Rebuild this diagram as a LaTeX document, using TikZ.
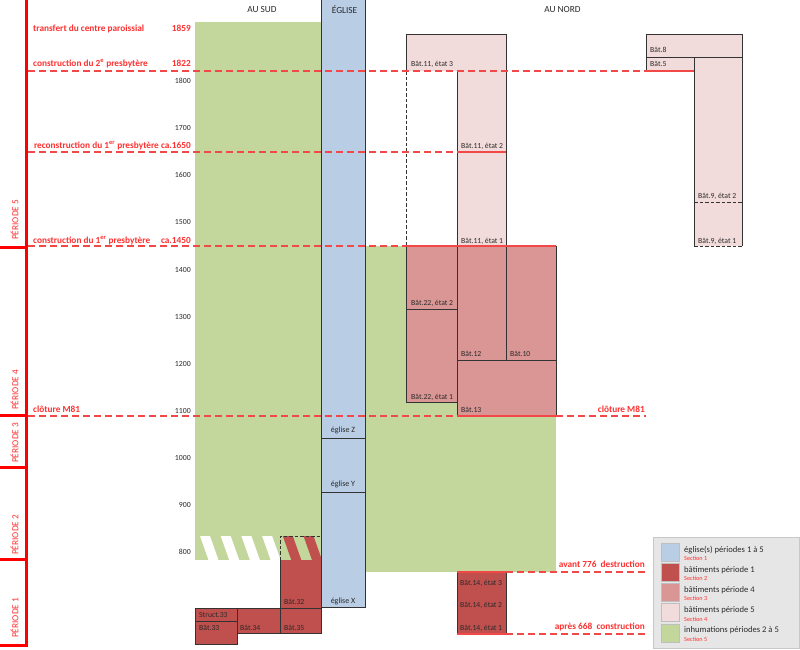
\documentclass[tikz,border=0pt]{standalone}
\usepackage{fontspec}
\setmainfont{Carlito}
\definecolor{eglise}{HTML}{B9CDE5}
\definecolor{inhum}{HTML}{C3D69B}
\definecolor{batA}{HTML}{C0504D}
\definecolor{batB}{HTML}{D99694}
\definecolor{batC}{HTML}{F2DCDB}
\definecolor{trait}{HTML}{333333}
\definecolor{txt}{HTML}{2A2A2A}
\definecolor{rouge}{HTML}{FF3030}
\definecolor{rougel}{HTML}{F24848}
\definecolor{barre}{HTML}{FF0000}
\definecolor{legfond}{HTML}{E6E6E6}
\definecolor{legbord}{HTML}{C8C8C8}
\begin{document}
\begin{tikzpicture}[x=1pt,y=-1pt,line join=miter]
\tikzset{
 bord/.style={draw=trait,line width=0.8pt},
 ptl/.style={font=\fontsize{7.7}{8}\selectfont,text=txt,inner sep=0pt,anchor=base west},
 ptc/.style={font=\fontsize{8}{8}\selectfont,text=txt,inner sep=0pt,anchor=base},
 evt/.style={font=\bfseries\fontsize{9.3}{10}\selectfont,text=rouge,inner sep=0pt,anchor=base west},
 evtr/.style={evt,anchor=base east},
 yr/.style={font=\fontsize{7.8}{8}\selectfont,text=txt,inner sep=0pt,anchor=east},
 hdr/.style={font=\fontsize{9.3}{10}\selectfont,text=txt,inner sep=0pt},
 per/.style={font=\fontsize{9.3}{10}\selectfont,text=rouge,inner sep=0pt,rotate=90,anchor=base west},
 datel/.style={draw=rougel,line width=1.1pt,dash pattern=on 7pt off 4pt},
 datef/.style={draw=rougel,line width=1.1pt},
 tickb/.style={draw=barre,line width=3pt},
 leg/.style={font=\fontsize{8.6}{9}\selectfont,text=txt,inner sep=0pt,anchor=base west},
 legs/.style={font=\fontsize{6.2}{7}\selectfont,text=rouge,inner sep=0pt,anchor=base west},
 sw/.style={draw=black!25,line width=0.6pt},
 dsh/.style={draw=trait,line width=0.8pt,dash pattern=on 3.5pt off 2pt},
}
\useasboundingbox (0,0) rectangle (800,649);
\fill[white] (0,0) rectangle (800,649);

% --- inhumations (green)
\fill[inhum] (195,22) rectangle (321,560);
\fill[inhum] (365,246) rectangle (556,572);
% hatched band
\begin{scope}
\clip (195,536) rectangle (280,560);
\foreach \k in {0,...,3}{
  \fill[white] ({200+20.7*\k},536) -- ({210+20.7*\k},536) -- ({218.5+20.7*\k},560) -- ({208.5+20.7*\k},560) -- cycle;}
\end{scope}
\begin{scope}
\clip (280,536) rectangle (321,560);
\foreach \k in {4,5}{
  \fill[batA] ({200+20.7*\k},536) -- ({210+20.7*\k},536) -- ({218.5+20.7*\k},560) -- ({208.5+20.7*\k},560) -- cycle;}
\end{scope}

% --- church
\fill[eglise] (321,0) rectangle (365,607);
\draw[bord] (321,0) -- (321,607) -- (365,607) -- (365,0);
\draw[bord] (321,438) -- (365,438);
\draw[bord] (321,492) -- (365,492);

% --- period 1 buildings (south)
\fill[batA] (280,560) rectangle (321,608);
\draw[bord] (280,560) -- (280,608);
\draw[dsh] (280,560) -- (280,536) -- (321,536);
\fill[batA] (195,608) rectangle (237,644);
\fill[batA] (237,608) rectangle (321,633);
\draw[bord] (195,608) rectangle (237,621);
\draw[bord] (195,621) rectangle (237,644);
\draw[bord] (237,608) rectangle (280,633);
\draw[bord] (280,608) rectangle (321,633);

% --- Bat.14 (north, period 1)
\fill[batA] (457,572) rectangle (506,634);
\draw[bord] (457,572) -- (457,634);
\draw[bord] (506,572) -- (506,634);
\draw[datef] (457,572) -- (506,572);
\draw[datef] (457,634) -- (506,634);

% --- period 4 buildings
\fill[batB] (406,246) rectangle (457,402);
\fill[batB] (457,246) rectangle (556,416);
\draw[bord] (406,246) rectangle (457,309);
\draw[bord] (406,309) rectangle (457,402);
\draw[bord] (457,246) rectangle (506,360);
\draw[bord] (506,246) rectangle (556,360);
\draw[bord] (457,360) rectangle (556,416);

% --- period 5 buildings
\fill[batC] (406,34) rectangle (506,71);
\fill[batC] (457,71) rectangle (506,246);
\draw[bord] (406,71) -- (406,34) -- (506,34) -- (506,246);
\draw[bord] (457,71) -- (457,246);
\draw[dsh] (406,71) -- (406,246);
\fill[batC] (646,34) rectangle (742,71);
\fill[batC] (694,71) rectangle (742,246);
\draw[bord] (646,34) rectangle (742,57);
\draw[bord] (646,57) -- (646,71);
\draw[bord] (694,57) -- (694,246);
\draw[bord] (742,57) -- (742,246);
\draw[dsh] (694,202) -- (742,202);
\draw[dsh] (694,246) -- (742,246);

% --- date lines
\draw[datel] (28,71) -- (646,71);
\draw[datef] (646,71) -- (694,71);
\draw[datel] (28,152) -- (457,152);
\draw[datef] (457,152) -- (506,152);
\draw[datel] (28,246) -- (406,246);
\draw[datef] (406,246) -- (556,246);
\draw[datel] (28,416) -- (457,416);
\draw[datef] (457,416) -- (556,416);
\draw[datel] (556,416) -- (646,416);
\draw[datel] (506,572) -- (646,572);
\draw[datel] (506,634) -- (646,634);

% --- period bar
\draw[tickb] (26.5,0) -- (26.5,647);
\foreach \yy in {247,415,467,559,645}{\draw[tickb] (0,\yy) -- (26.5,\yy);}
\node[per] (p5) at (18.3,240) {PÉRIODE 5};
\node[per] (p4) at (18.3,410) {PÉRIODE 4};
\node[per] (p3) at (18.3,463) {PÉRIODE 3};
\node[per] (p2) at (18.3,555) {PÉRIODE 2};
\node[per] (p1) at (18.3,638) {PÉRIODE 1};

% --- headers
\node[hdr] (hsud) at (262,10) {AU SUD};
\node[hdr] (hegl) at (344.5,10) {ÉGLISE};
\node[hdr] (hnord) at (562.5,10) {AU NORD};

% --- years
\foreach \yv/\yc in {1800/81,1700/128.1,1600/175.3,1500/222.4,1400/269.5,1300/316.7,1200/363.8,1100/410.9,1000/458,900/505.2,800/552.3}{
  \node[yr] (y\yv) at (191,\yc) {\yv};}

% --- events
\node[evt] (e1859) at (33,31) {transfert du centre paroissial};
\node[evtr] (e1859y) at (191,31) {1859};
\node[evt] (e1822) at (33,66) {construction du 2\textsuperscript{e} presbytère};
\node[evtr] (e1822y) at (191,66) {1822};
\node[evtr] (e1650) at (191,148) {reconstruction du 1\textsuperscript{er} presbytère ca.1650};
\node[evt] (e1450) at (33,243) {construction du 1\textsuperscript{er} presbytère};
\node[evtr] (e1450y) at (191,243) {ca.1450};
\node[evt] (m81a) at (33,412) {clôture M81};
\node[evtr] (m81b) at (645,412) {clôture M81};
\node[evtr] (e776) at (645,567.5) {avant 776\ \ destruction};
\node[evtr] (e668) at (645,629) {après 668\ \ construction};

% --- building labels
\node[ptl] (b11c) at (411,66.5) {Bât.11, état 3};
\node[ptl] (b11b) at (461,148) {Bât.11, état 2};
\node[ptl] (b11a) at (461,243) {Bât.11, état 1};
\node[ptl] (b8) at (650,52.5) {Bât.8};
\node[ptl] (b5) at (650,66.5) {Bât.5};
\node[ptl] (b9b) at (698,198.5) {Bât.9, état 2};
\node[ptl] (b9a) at (698,243) {Bât.9, état 1};
\node[ptl] (b22b) at (411,305) {Bât.22, état 2};
\node[ptl] (b22a) at (411,399) {Bât.22, état 1};
\node[ptl] (b12) at (461,356) {Bât.12};
\node[ptl] (b10) at (510,356) {Bât.10};
\node[ptl] (b13) at (461,412.3) {Bât.13};
\node[ptl] (b14c) at (460,585) {Bât.14, état 3};
\node[ptl] (b14b) at (460,607.3) {Bât.14, état 2};
\node[ptl] (b14a) at (460,630.7) {Bât.14, état 1};
\node[ptl] (b32) at (284,604.3) {Bât.32};
\node[ptl] (s33) at (199,617.3) {Struct.33};
\node[ptl] (b33) at (199,630.7) {Bât.33};
\node[ptl] (b34) at (240,630.7) {Bât.34};
\node[ptl] (b35) at (284,630.7) {Bât.35};
\node[ptc] (egz) at (343,432.7) {église Z};
\node[ptc] (egy) at (343,486.7) {église Y};
\node[ptc] (egx) at (343,603.3) {église X};

% --- legend
\draw[fill=legfond,draw=legbord,line width=0.8pt] (653,537) rectangle (799,648);
\foreach \i/\c/\t in {0/eglise/{église(s) périodes 1 à 5},1/batA/{bâtiments période 1},2/batB/{bâtiments période 4},3/batC/{bâtiments période 5},4/inhum/{inhumations périodes 2 à 5}}{
  \draw[sw,fill=\c] (661,{543+20.2*\i}) rectangle (679,{561+20.2*\i});
  \node[leg] (lt\i) at (684,{552+20.2*\i}) {\t};
}
\foreach \i/\n in {0/1,1/2,2/3,3/4,4/5}{
  \node[legs] (ls\i) at (684,{560.5+20.2*\i}) {Section \n};
}
\end{tikzpicture}
\end{document}
